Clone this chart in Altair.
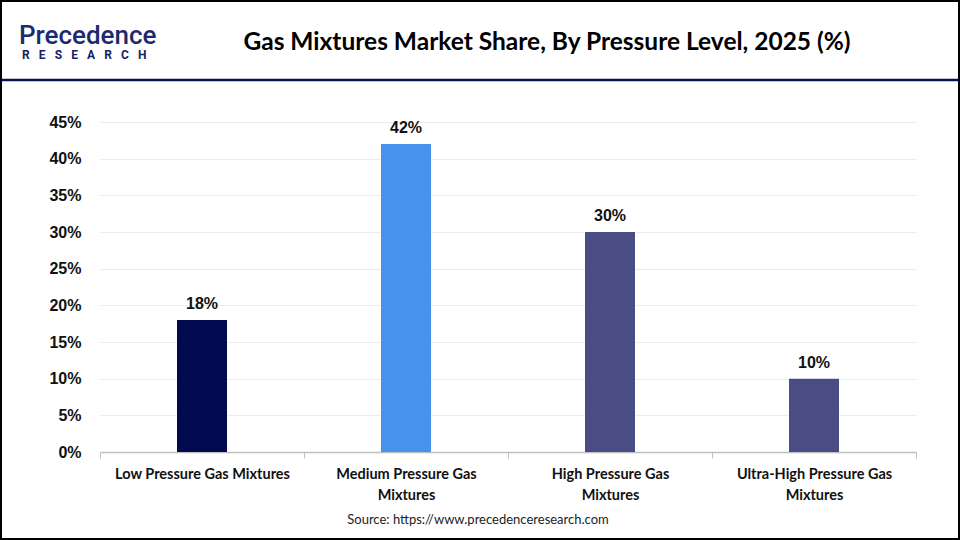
import altair as alt
import pandas as pd

# Chart data
categories = [
    "Low Pressure Gas Mixtures",
    "Medium Pressure Gas Mixtures",
    "High Pressure Gas Mixtures",
    "Ultra-High Pressure Gas Mixtures",
]
shares = [18, 42, 30, 10]
bar_colors = ["#020B4F", "#4593EC", "#4A4D84", "#4A4D84"]
y_ticks = [0, 5, 10, 15, 20, 25, 30, 35, 40, 45]

title_text = "Gas Mixtures Market Share, By Pressure Level, 2025 (%)"
source_text = "Source: https://www.precedenceresearch.com"
logo_word = "Precedence"
logo_sub = "\u2002 ".join(list("RESEARCH"))

PLOT_W, PLOT_H = 816, 330
PAD_L, PAD_T, PAD_R, PAD_B = 100, 122, 44, 88

df = pd.DataFrame({"category": categories, "share": shares, "color": bar_colors})
df["label"] = df["share"].astype(str) + "%"

x_enc = alt.X(
    "category:N",
    sort=categories,
    scale=alt.Scale(paddingInner=0, paddingOuter=0),
    axis=alt.Axis(
        title=None,
        labelAngle=0,
        labelFont="Lato",
        labelFontWeight="bold",
        labelFontSize=14.5,
        labelColor="#111111",
        labelPadding=9,
        labelLineHeight=21,
        labelOverlap=False,
        labelExpr="length(datum.label) > 25 ? [slice(datum.label, 0, lastindexof(datum.label, ' ')), slice(datum.label, lastindexof(datum.label, ' ') + 1)] : datum.label",
        domainColor="#BFBFBF",
        domainWidth=1.5,
        tickColor="#BFBFBF",
        tickBand="extent",
        tickSize=6,
        grid=False,
    ),
)

y_enc = alt.Y(
    "share:Q",
    scale=alt.Scale(domain=[0, 45], nice=False),
    axis=alt.Axis(
        title=None,
        values=y_ticks,
        labelExpr="datum.value + '%'",
        labelFont="Liberation Sans",
        labelFontWeight="bold",
        labelFontSize=16,
        labelColor="#111111",
        labelPadding=19,
        labelOverlap=False,
        domain=False,
        ticks=False,
        gridColor="#EBEBEB",
        gridWidth=1,
    ),
)

bars = alt.Chart(df).mark_bar(width=50).encode(
    x=x_enc,
    y=y_enc,
    color=alt.Color("color:N", scale=None),
)

values = alt.Chart(df).mark_text(
    font="Liberation Sans", fontWeight="bold", fontSize=16, color="#111111",
    baseline="bottom", dy=-8,
).encode(x=x_enc, y=y_enc, text="label:N")

one = pd.DataFrame({"k": [0]})

frame = alt.Chart(one).mark_rect(fill=None, stroke="#000000", strokeWidth=2).encode(
    x=alt.value(-PAD_L + 1), x2=alt.value(PLOT_W + PAD_R - 1),
    y=alt.value(-PAD_T + 1), y2=alt.value(PLOT_H + PAD_B - 1),
)

header_rule = alt.Chart(one).mark_rule(color="#0B1150", strokeWidth=2.5).encode(
    x=alt.value(-PAD_L + 1), x2=alt.value(PLOT_W + PAD_R - 1), y=alt.value(-42),
)

title = alt.Chart(pd.DataFrame({"t": [title_text]})).mark_text(
    font="Lato", fontWeight="bold", fontSize=24.5, color="#000000",
    align="center", baseline="middle",
).encode(x=alt.value(447), y=alt.value(-79), text="t:N")

source = alt.Chart(pd.DataFrame({"t": [source_text]})).mark_text(
    font="Lato", fontSize=13, color="#222222",
    align="center", baseline="middle",
).encode(x=alt.value(378), y=alt.value(398), text="t:N")

logo_top = alt.Chart(pd.DataFrame({"t": [logo_word]})).mark_text(
    font="Roboto", fontSize=26, fontWeight=500, color="#1C2A72",
    align="left", baseline="alphabetic",
).encode(x=alt.value(-81), y=alt.value(-78), text="t:N")

logo_bottom = alt.Chart(pd.DataFrame({"t": [logo_sub]})).mark_text(
    font="Roboto", fontSize=12, fontWeight="bold", color="#1A2266",
    align="left", baseline="top",
).encode(x=alt.value(-78), y=alt.value(-72), text="t:N")

chart = alt.layer(
    bars, values, frame, header_rule, title, source, logo_top, logo_bottom
).properties(
    width=PLOT_W,
    height=PLOT_H,
    padding={"left": PAD_L, "top": PAD_T, "right": PAD_R, "bottom": PAD_B},
    autosize=alt.AutoSizeParams(type="none"),
    background="#FFFFFF",
).configure_view(stroke=None)

chart.save("out.html", embed_options={"renderer": "svg", "actions": False})
